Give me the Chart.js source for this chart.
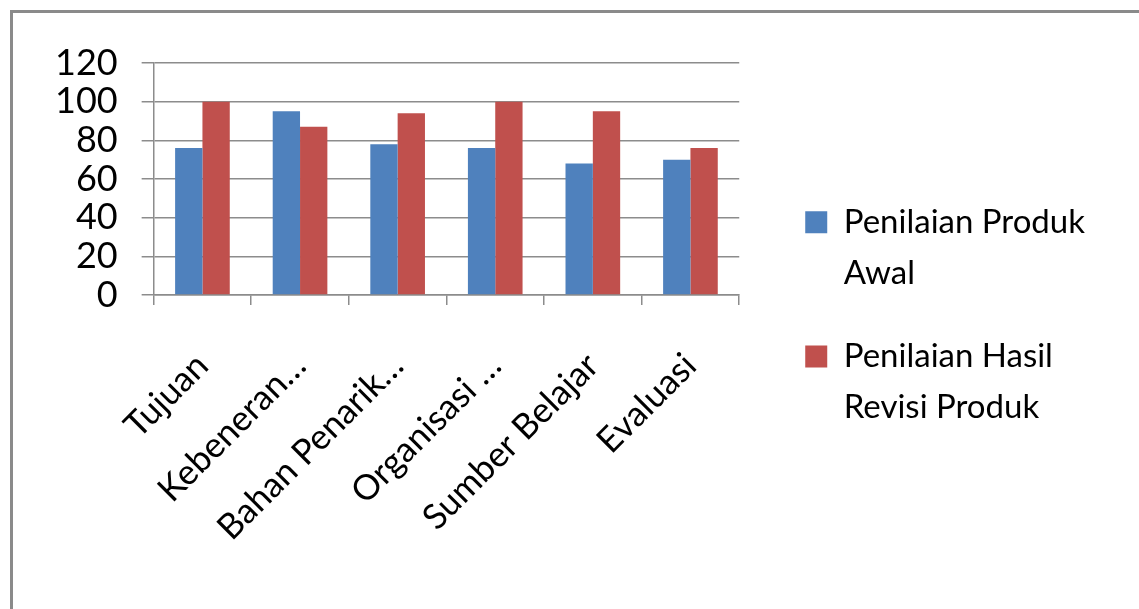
<!DOCTYPE html>
<html>
<head>
<meta charset="utf-8">
<script src="https://cdn.jsdelivr.net/npm/chart.js@4/dist/chart.umd.min.js"></script>
<style>
  html, body { margin: 0; padding: 0; background: #fff; overflow: hidden; }
  #wrap { position: relative; width: 1139px; height: 609px; }
  #frame { position: absolute; left: 10px; top: 10px; width: 1400px; height: 900px;
           border: 3px solid #8a8a8a; box-sizing: border-box; pointer-events: none; }
  canvas { position: absolute; left: 0; top: 0; }
</style>
</head>
<body>
<div id="wrap">
  <canvas id="chart" width="1139" height="609"></canvas>
  <div id="frame"></div>
</div>
<script>
// categories and series
const categories = ["Tujuan", "Kebeneran…", "Bahan Penarik…", "Organisasi …", "Sumber Belajar", "Evaluasi"];
const awal = [76, 95, 78, 76, 68, 70];
const revisi = [100, 87, 94, 100, 95, 76];
const legendLines = [["Penilaian Produk", "Awal"], ["Penilaian Hasil", "Revisi Produk"]];
const yTicks = [0, 20, 40, 60, 80, 100, 120];

const FONT = "Lato, 'Open Sans', sans-serif";
const GRID = "#8c8c8c";

new Chart(document.getElementById("chart"), {
  type: "bar",
  data: {
    labels: categories,
    datasets: [
      { label: legendLines[0].join(" "), data: awal,
        backgroundColor: "#4f81bd", borderWidth: 0,
        categoryPercentage: 0.56, barPercentage: 1 },
      { label: legendLines[1].join(" "), data: revisi,
        backgroundColor: "#c0504d", borderWidth: 0,
        categoryPercentage: 0.56, barPercentage: 1 },
    ],
  },
  options: {
    responsive: false, animation: false,
    layout: { autoPadding: false, padding: { left: 31, top: 63, right: 44, bottom: 24 } },
    plugins: {
      tooltip: { enabled: false },
      legend: {
        position: "right",
        maxWidth: 420,
        labels: {
          font: { family: FONT, size: 33, lineHeight: 1.55 },
          color: "#000",
          boxWidth: 22, boxHeight: 22, padding: 32,
          generateLabels: (chart) => {
            const items = Chart.defaults.plugins.legend.labels.generateLabels(chart);
            items.forEach((it, i) => { it.text = legendLines[i]; it.lineWidth = 0; });
            return items;
          },
        },
      },
    },
    scales: {
      x: {
        afterFit: (s) => { s.height = 290; },
        grid: { drawOnChartArea: false, drawTicks: true, tickLength: 10, offset: true,
                color: GRID, lineWidth: 1.5 },
        border: { color: GRID, width: 1.5 },
        ticks: { font: { family: FONT, size: 35 }, color: "#000",
                 maxRotation: 45, minRotation: 45, autoSkip: false, padding: 40 },
      },
      y: {
        min: 0, max: 120,
        afterBuildTicks: (s) => { s.ticks = yTicks.map(v => ({ value: v })); },
        grid: { color: GRID, lineWidth: 1.5, tickLength: 12 },
        border: { color: GRID, width: 1.5 },
        ticks: { font: { family: FONT, size: 36 }, color: "#000", padding: 24, autoSkip: false },
      },
      // empty spacer axis: keeps the gap between plot and legend
      gap: {
        position: "right", display: true,
        grid: { display: false }, border: { display: false },
        ticks: { display: false },
        afterFit: (s) => { s.width = 34; },
      },
    },
  },
});
</script>
</body>
</html>
